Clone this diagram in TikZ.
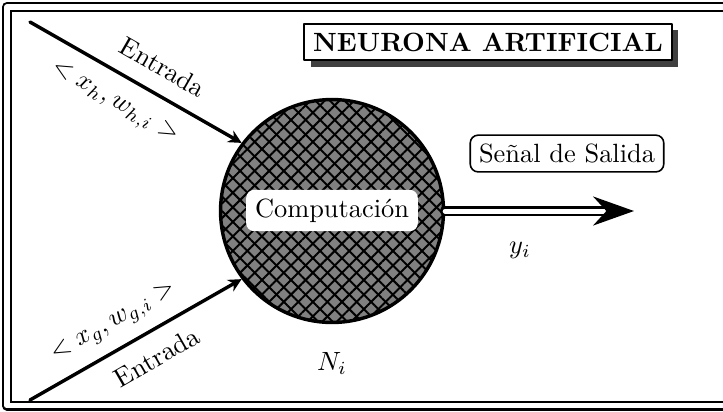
\documentclass[tikz,border=0pt]{standalone}
\usepackage{amsmath,amssymb}
\usepackage{tikz}
\usetikzlibrary{arrows.meta,patterns.meta,shadows}

\begin{document}
\begin{tikzpicture}[x=0.379pt, y=-0.379pt, line cap=round, line join=round, >={Stealth[length=5pt,width=5pt]}]
    \useasboundingbox (0,0) rectangle (723,411);
    \clip (0,0) rectangle (723,411);

    % marco doble
    \draw[double, line width=0.8pt, double distance=2.2pt] (7,7) rectangle (745,405.5);

    % neurona
    \node[circle, draw, line width=1.3pt, minimum size=84.5pt,
          preaction={fill=gray},
          preaction={pattern={Lines[angle=45,distance=3.9pt,line width=0.75pt]}},
          preaction={pattern={Lines[angle=-45,distance=3.9pt,line width=0.75pt]}}] (neurona) at (332,211) {};
    \node[fill=white, rounded corners=3pt] (comp) at (332,210.5) {Computación};

    \node[draw, line width=0.8pt, fill=white, font=\bfseries,
          drop shadow={shadow xshift=2.3pt, shadow yshift=-2.5pt, fill=black!75, opacity=1}] (titulo) at (488,42) {NEURONA ARTIFICIAL};

    \node[draw, rounded corners=3pt, line width=0.6pt] (senal) at (567,153.5) {Señal de Salida};

    % entradas
    \coordinate (entH) at (30,22);
    \coordinate (entG) at (30,400);
    \draw[->, line width=1.3pt] (entH) -- (neurona.143);
    \draw[->, line width=1.3pt] (entG) -- (neurona.217);

    \node[rotate=-30] (entradaH) at (163,67) {Entrada};
    \node[rotate=-30] (pesoH) at (114,103) {$<x_h, w_{h,i}>$};
    \node[rotate=30] (pesoG) at (114,323) {$<x_g, w_{g,i}>$};
    \node[rotate=30] (entradaG) at (157,357) {Entrada};

    % salida
    \coordinate (sal) at (634,211);
    \draw[double, line width=1.1pt, double distance=1.9pt, -{Stealth[length=15.5pt,width=11pt]}] (neurona.east) -- (sal);

    \node (yi) at (520,250) {$y_i$};
    \node (Ni) at (332,363) {$N_i$};
\end{tikzpicture}
\end{document}
